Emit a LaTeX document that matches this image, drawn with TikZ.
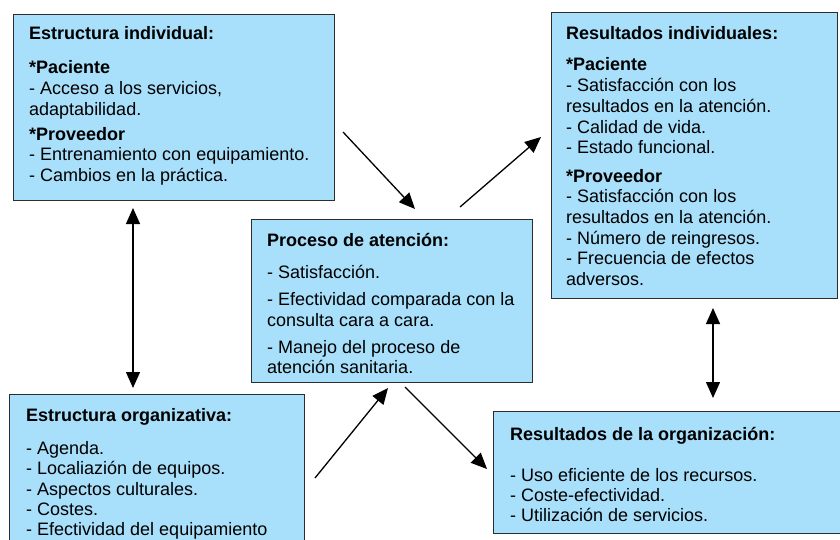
\documentclass[tikz,border=0pt]{standalone}
\usepackage{fontspec}
\setmainfont{Liberation Sans}
\usetikzlibrary{arrows.meta}
\definecolor{boxblue}{RGB}{168,223,250}
\definecolor{boxline}{RGB}{45,45,45}
\begin{document}
\begin{tikzpicture}[x=1pt,y=-1pt,
  box/.style={draw=boxline, line width=1.4pt, fill=boxblue, rectangle, inner sep=0pt, anchor=north west},
  txt/.style={anchor=north west, inner sep=0pt, align=left, font=\fontsize{18}{20.7}\selectfont},
  tip/.tip={Triangle[length=16pt,width=14pt]},
  arr/.style={line width=1.3pt, -tip},
  darr/.style={line width=1.3pt, tip-tip}]
\useasboundingbox (0,0) rectangle (840,540);
\clip (0,0) rectangle (840,540);

% boxes
\node[box, minimum width=321pt, minimum height=186pt] (b1) at (13,14) {};
\node[box, minimum width=286pt, minimum height=286pt] (b2) at (551,12) {};
\node[box, minimum width=281pt, minimum height=163pt] (b3) at (251,219) {};
\node[box, minimum width=295pt, minimum height=160pt] (b4) at (9,394) {};
\node[box, minimum width=360pt, minimum height=122pt] (b5) at (493,411) {};

% texts
\node[txt] (t1) at (29,26.5) {\textbf{Estructura individual:}\\[13.3pt]
\textbf{*Paciente}\\
- Acceso a los servicios,\\
adaptabilidad.\\[4.3pt]
\textbf{*Proveedor}\\
- Entrenamiento con equipamiento.\\
- Cambios en la práctica.};

\node[txt] (t2) at (566,26) {\textbf{Resultados individuales:}\\[11pt]
\textbf{*Paciente}\\
- Satisfacción con los\\
resultados en la atención.\\
- Calidad de vida.\\
- Estado funcional.\\[7.6pt]
\textbf{*Proveedor}\\
- Satisfacción con los\\
resultados en la atención.\\
- Número de reingresos.\\
- Frecuencia de efectos\\
adversos.};

\node[txt] (t3) at (267,233.3) {\textbf{Proceso de atención:}\\[11pt]
- Satisfacción.\\[6.6pt]
- Efectividad comparada con la\\
consulta cara a cara.\\[6pt]
- Manejo del proceso de\\
atención sanitaria.};

\node[txt, font=\fontsize{18}{20.3}\selectfont] (t4) at (26,408.3) {\textbf{Estructura organizativa:}\\[12.6pt]
- Agenda.\\
- Localiazión de equipos.\\
- Aspectos culturales.\\
- Costes.\\
- Efectividad del equipamiento};

\node[txt, font=\fontsize{18}{20}\selectfont] (t5) at (510,426.7) {\textbf{Resultados de la organización:}\\[21pt]
- Uso eficiente de los recursos.\\
- Coste-efectividad.\\
- Utilización de servicios.};

% connector end points
\coordinate (a1s) at (343,132);
\coordinate (a1e) at (415,209);
\coordinate (a2s) at (460,207);
\coordinate (a2e) at (541,137);
\coordinate (a3s) at (315,478);
\coordinate (a3e) at (388,388);
\coordinate (a4s) at (405,387);
\coordinate (a4e) at (487,469);
\coordinate (v1s) at (133,208);
\coordinate (v1e) at (133,388);
\coordinate (v2s) at (713,308);
\coordinate (v2e) at (713,398);

\draw[arr] (a1s) -- (a1e);
\draw[arr] (a2s) -- (a2e);
\draw[arr] (a3s) -- (a3e);
\draw[arr] (a4s) -- (a4e);
\draw[darr] (v1s) -- (v1e);
\draw[darr] (v2s) -- (v2e);
\end{tikzpicture}
\end{document}
